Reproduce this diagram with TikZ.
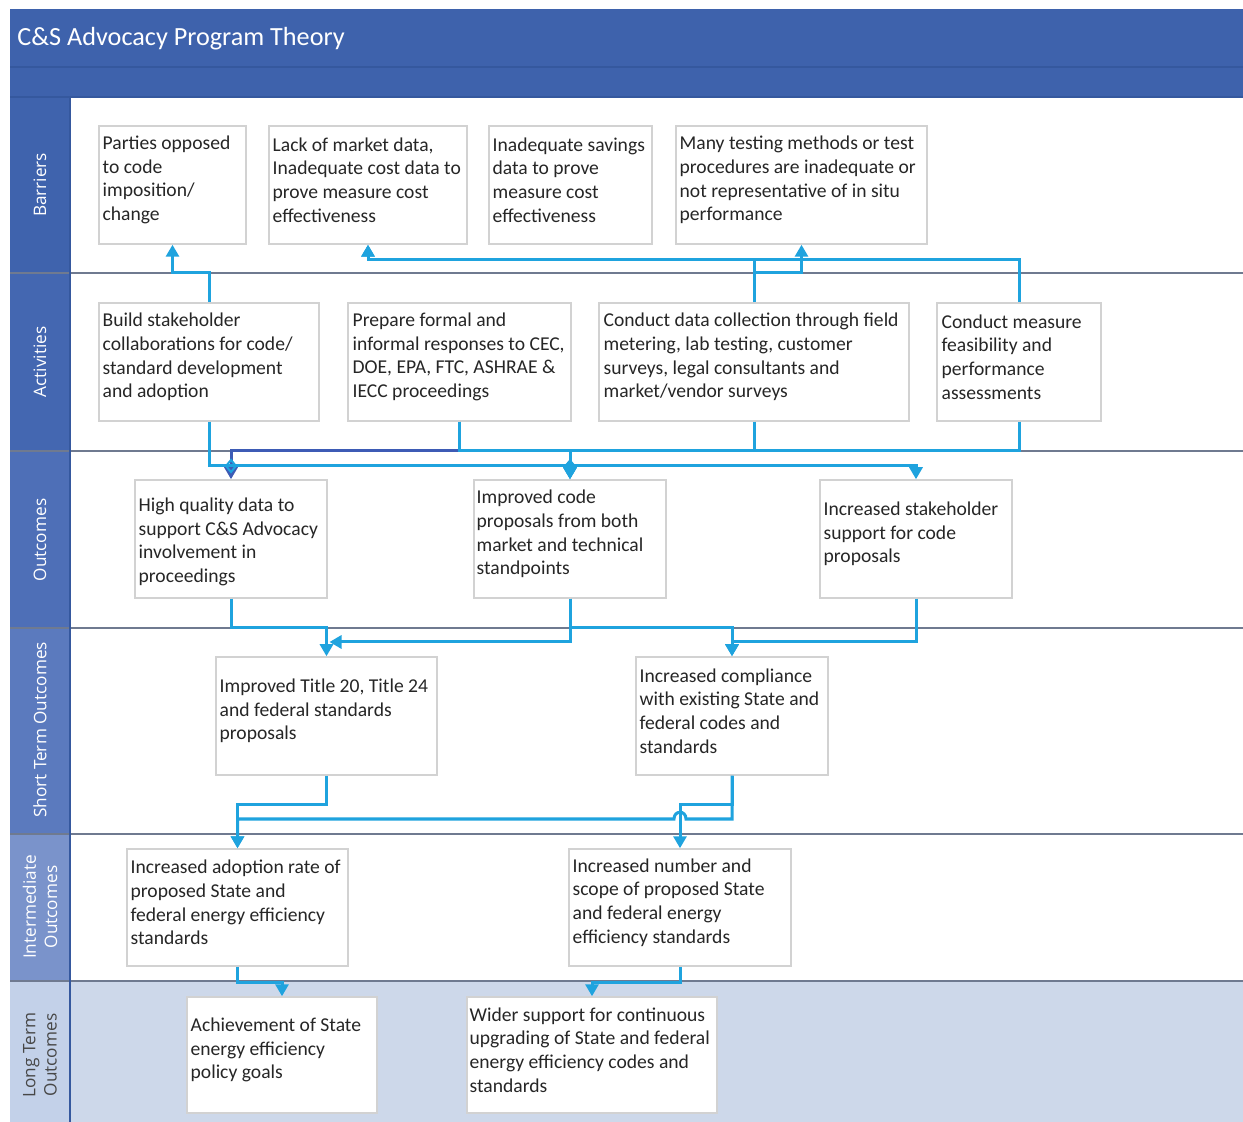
\documentclass[tikz,border=0pt]{standalone}
\usepackage{fontspec}
\setmainfont{Carlito}
\newfontfamily\lanefont{Open Sans}
\usetikzlibrary{arrows.meta,fit,calc}
\definecolor{hdr}{HTML}{3E62AC}
\definecolor{hdrline}{HTML}{35589E}
\definecolor{cbar}{HTML}{3F63AD}
\definecolor{cact}{HTML}{4467B1}
\definecolor{cout}{HTML}{4E6FB7}
\definecolor{cshort}{HTML}{5B7ABE}
\definecolor{cint}{HTML}{7A93CB}
\definecolor{clong}{HTML}{C3D1E9}
\definecolor{longbg}{HTML}{CDD8EA}
\definecolor{sepc}{HTML}{6F7A90}
\definecolor{boxgray}{HTML}{D2D2D2}
\definecolor{txtc}{HTML}{262626}
\definecolor{cyanc}{HTML}{1FA3DE}
\definecolor{darkc}{HTML}{3D5BB5}
\tikzset{
  box/.style={draw=boxgray, line width=0.75pt, fill=white, inner sep=0pt},
  txt/.style={anchor=west, align=left, inner sep=0pt, text=txtc, font=\fontsize{9.8}{11.8}\selectfont},
  conn/.style={draw=cyanc, line width=1.5pt, -{Triangle[width=6.5pt,length=6pt]}},
  lanelab/.style={rotate=90, align=center, inner sep=0pt, text=white, font=\lanefont\fontsize{8.6}{10.6}\selectfont},
  sep/.style={draw=sepc, line width=0.8pt}
}
\begin{document}
\begin{tikzpicture}[x=0.5pt,y=-0.5pt]
\useasboundingbox (0,0) rectangle (1243,1122);
\fill[white] (0,0) rectangle (1243,1122);
% header
\fill[hdr] (10,9) rectangle (1243,97);
\draw[hdrline, line width=0.8pt] (10,67) -- (1243,67);
\node[anchor=west, inner sep=0pt, text=white, font=\fontsize{13.1}{15}\selectfont] (title) at (17,39) {C\&S Advocacy Program Theory};
% lane bodies
\fill[white] (70,97) rectangle (1243,981);
\fill[longbg] (70,981) rectangle (1243,1122);
% lane label cells
\fill[cbar] (10,97) rectangle (70,273);
\fill[cact] (10,273) rectangle (70,451);
\fill[cout] (10,451) rectangle (70,628);
\fill[cshort] (10,628) rectangle (70,834);
\fill[cint] (10,834) rectangle (70,981);
\fill[clong] (10,981) rectangle (70,1122);
\draw[hdrline, line width=0.6pt] (10,97) -- (1243,97);
\foreach \yy in {273,451,628,834,981} {\draw[sep] (10,\yy) -- (1243,\yy);}
\draw[hdrline, line width=0.6pt] (70,97) -- (70,1122);
% lane labels
\node[lanelab] (Lbar) at (40,185) {Barriers};
\node[lanelab] (Lact) at (40,362) {Activities};
\node[lanelab] (Lout) at (40,540) {Outcomes};
\node[lanelab] (Lsho) at (40,730) {Short Term Outcomes};
\node[lanelab] (Lint) at (40,907) {Intermediate\\Outcomes};
\node[lanelab, text=txtc!85] (Llon) at (40,1055) {Long Term\\Outcomes};
% level coordinates
\coordinate (yB) at (0,260);
\coordinate (yBa) at (0,273);
\coordinate (yC1) at (0,451);
\coordinate (yC2) at (0,466);
\coordinate (yD1) at (0,628);
\coordinate (yD2) at (0,642);
\coordinate (yE1) at (0,805);
\coordinate (yE2) at (0,819);
\coordinate (yF) at (0,982);
% boxes
\node[box, fit={(99,126) (246,244)}] (B1) {};
\node[box, fit={(269,126) (467,244)}] (B2) {};
\node[box, fit={(489,126) (652,244)}] (B3) {};
\node[box, fit={(676,126) (927,244)}] (B4) {};
\node[box, fit={(99,303) (319,421)}] (A1) {};
\node[box, fit={(348,303) (571,421)}] (A2) {};
\node[box, fit={(599,303) (909,421)}] (A3) {};
\node[box, fit={(937,303) (1101,421)}] (A4) {};
\node[box, fit={(135,480) (327,598)}] (O1) {};
\node[box, fit={(474,480) (666,598)}] (O2) {};
\node[box, fit={(820,480) (1012,598)}] (O3) {};
\node[box, fit={(216,657) (437,775)}] (S1) {};
\node[box, fit={(636,657) (828,775)}] (S2) {};
\node[box, fit={(127,849) (348,966)}] (I1) {};
\node[box, fit={(569,849) (791,966)}] (I2) {};
\node[box, fit={(187,997) (377,1113)}] (L1) {};
\node[box, fit={(467,997) (717,1113)}] (L2) {};
% texts
\node[txt] (B1t) at ($(B1.west)+(4,-5)$) {Parties opposed\\to code\\imposition/\\change};
\node[txt] (B2t) at ($(B2.west)+(4,-5)$) {Lack of market data,\\Inadequate cost data to\\prove measure cost\\effectiveness};
\node[txt] (B3t) at ($(B3.west)+(4,-5)$) {Inadequate savings\\data to prove\\measure cost\\effectiveness};
\node[txt] (B4t) at ($(B4.west)+(4,-5)$) {Many testing methods or test\\procedures are inadequate or\\not representative of in situ\\performance};
\node[txt] (A1t) at ($(A1.west)+(4,-5)$) {Build stakeholder\\collaborations for code/\\standard development\\and adoption};
\node[txt] (A2t) at ($(A2.west)+(5,-5)$) {Prepare formal and\\informal responses to CEC,\\DOE, EPA, FTC, ASHRAE \&\\IECC proceedings};
\node[txt] (A3t) at ($(A3.west)+(5,-5)$) {Conduct data collection through field\\metering, lab testing, customer\\surveys, legal consultants and\\market/vendor surveys};
\node[txt] (A4t) at ($(A4.west)+(5,-5)$) {Conduct measure\\feasibility and\\performance\\assessments};
\node[txt] (O1t) at ($(O1.west)+(4,3)$) {High quality data to\\support C\&S Advocacy\\involvement in\\proceedings};
\node[txt] (O2t) at ($(O2.west)+(3,-5)$) {Improved code\\proposals from both\\market and technical\\standpoints};
\node[txt] (O3t) at ($(O3.west)+(4,-5)$) {Increased stakeholder\\support for code\\proposals};
\node[txt] (S1t) at ($(S1.west)+(4,-5)$) {Improved Title 20, Title 24\\and federal standards\\proposals};
\node[txt] (S2t) at ($(S2.west)+(4,-5)$) {Increased compliance\\with existing State and\\federal codes and\\standards};
\node[txt] (I1t) at ($(I1.west)+(4,-5)$) {Increased adoption rate of\\proposed State and\\federal energy efficiency\\standards};
\node[txt] (I2t) at ($(I2.west)+(4,-5)$) {Increased number and\\scope of proposed State\\and federal energy\\efficiency standards};
\node[txt] (L1t) at ($(L1.west)+(4,-5)$) {Achievement of State\\energy efficiency\\policy goals};
\node[txt] (L2t) at ($(L2.west)+(3,-5)$) {Wider support for continuous\\upgrading of State and federal\\energy efficiency codes and\\standards};
% connectors: activities -> barriers
\draw[conn] (A1.north) -- (A1.north |- yBa) -| (B1.south);
\draw[conn] (A3.north) -- (A3.north |- yB) -| (B2.south);
\draw[conn] (A4.north) -- (A4.north |- yB) -| (B2.south);
\draw[conn] (A3.north) -- (A3.north |- yBa) -| (B4.south);
% activities -> outcomes
\draw[conn, draw=darkc] (A2.south) -- (A2.south |- yC1) -| (O1.north);
\draw[conn] (A2.south) -- (A2.south |- yC1) -| (O2.north);
\draw[conn] (A3.south) -- (A3.south |- yC1) -| (O2.north);
\draw[conn] (A4.south) -- (A4.south |- yC1) -| (O2.north);
\draw[conn] (A1.south) -- (A1.south |- yC2) -| (O3.north);
\fill[cyanc] ($(O2.north |- yC2)+(0,-7)$) -- ++(6,7) -- ++(-6,7) -- ++(-6,-7) -- cycle;
\draw[cyanc, line width=1pt] ($(O1.north |- yC2)+(0,-6)$) -- ++(5,6) -- ++(-5,6) -- ++(-5,-6) -- cycle;
% outcomes -> short term
\draw[conn] (O1.south) -- (O1.south |- yD1) -| (S1.north);
\draw[conn] (O2.south) -- (O2.south |- yD2) -- ($(S1.north |- yD2)+(3,0)$);
\draw[conn] (O2.south) -- (O2.south |- yD1) -| (S2.north);
\draw[conn] (O3.south) -- (O3.south |- yD2) -| (S2.north);
% short term -> intermediate
\draw[conn] (S1.south) -- (S1.south |- yE1) -| (I1.north);
\draw[conn] (S2.south) -- (S2.south |- yE1) -| (I2.north);
\draw[conn] (S2.south) -- (S2.south |- yE2) -- ($(I2.north |- yE2)+(6,0)$) .. controls +(0,-9) and +(0,-9) .. ($(I2.north |- yE2)+(-6,0)$) -| (I1.north);
% intermediate -> long term
\draw[conn] (I1.south) -- (I1.south |- yF) -| (L1.north);
\draw[conn] (I2.south) -- (I2.south |- yF) -| (L2.north);
\end{tikzpicture}
\end{document}
